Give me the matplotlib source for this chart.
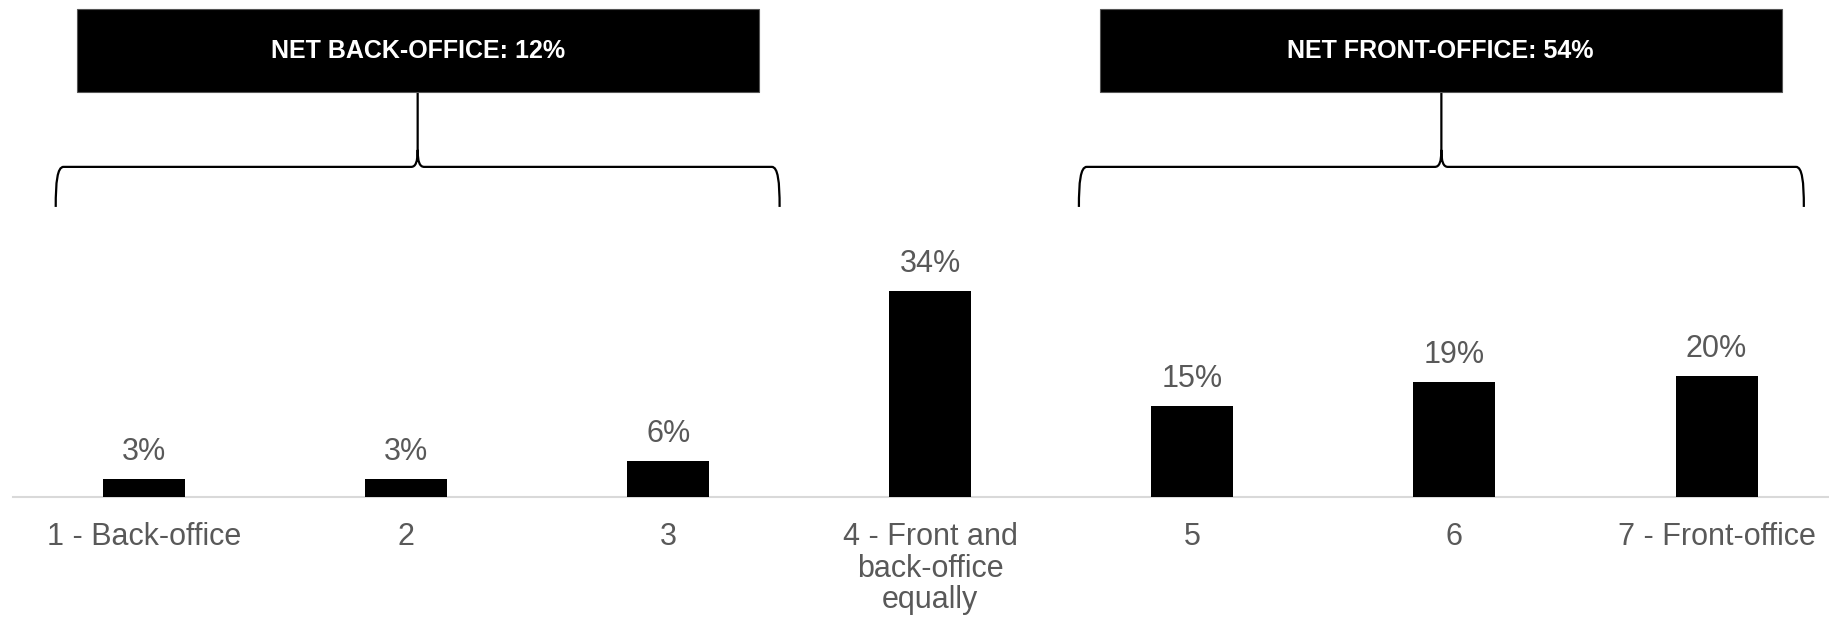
import matplotlib
matplotlib.use("Agg")
import matplotlib.pyplot as plt
from matplotlib.patches import Rectangle, PathPatch
from matplotlib.path import Path

# Survey responses: where should the focus sit, back-office (1) to front-office (7)
categories = ["1 - Back-office", "2", "3", "4 - Front and\nback-office\nequally",
              "5", "6", "7 - Front-office"]
values = [3, 3, 6, 34, 15, 19, 20]

# Net groupings shown above the bars (first and last category index of each)
net_names = ["NET BACK-OFFICE", "NET FRONT-OFFICE"]
net_members = [(0, 2), (4, 6)]

FONT = "Liberation Sans"
GREY = "#595959"

fig = plt.figure(figsize=(18.29, 6.25), dpi=100)
W, H = 1829, 625
ax = fig.add_axes([13 / W, 128 / H, (W - 13) / W, 497 / H])

x = list(range(len(categories)))
ax.bar(x, values, width=0.313, color="black", zorder=3)

for xi, v in zip(x, values):
    ax.annotate(f"{v}%", (xi, v), xytext=(0, 13.5), textcoords="offset points",
                ha="center", va="baseline", fontsize=22, color=GREY, family=FONT)

ax.set_xlim(-0.5, 6.429)
ax.set_ylim(0, 81.9)
ax.set_xticks(x, categories)
for lab in ax.get_xticklabels():
    lab.set_fontsize(22)
    lab.set_color(GREY)
    lab.set_family(FONT)
    lab.set_linespacing(1.07)
ax.tick_params(axis="x", length=0, pad=18)
ax.set_yticks([])
for side in ("left", "right", "top"):
    ax.spines[side].set_visible(False)
ax.spines["bottom"].set_color("#d9d9d9")
ax.spines["bottom"].set_linewidth(1.5)

# Brace + header box geometry (data units)
box_top, box_bot = 80.4, 66.7
brace_y, brace_end = 54.4, 47.8
rx, ry = 0.03, 2.5
cx, cy = 0.025, 2.8
margins = [(-0.337, 0.425, -0.256, 0.346), (-0.433, 0.333, -0.353, 0.248)]

for name, (i0, i1), (bl, br, kl, kr) in zip(net_names, net_members, margins):
    total = sum(values[i0:i1 + 1])
    xl, xr = i0 + bl, i1 + br
    xc = (xl + xr) / 2
    verts = [
        (xl, brace_end), (xl, brace_y - ry), (xl + rx * 0.2, brace_y), (xl + rx, brace_y),
        (xc - cx, brace_y),
        (xc - cx * 0.3, brace_y), (xc, brace_y + cy * 0.3), (xc, brace_y + cy),
        (xc, box_bot),
        (xc, brace_y + cy),
        (xc, brace_y + cy * 0.3), (xc + cx * 0.3, brace_y), (xc + cx, brace_y),
        (xr - rx, brace_y),
        (xr - rx * 0.2, brace_y), (xr, brace_y - ry), (xr, brace_end),
    ]
    codes = [
        Path.MOVETO, Path.CURVE4, Path.CURVE4, Path.CURVE4,
        Path.LINETO,
        Path.CURVE4, Path.CURVE4, Path.CURVE4,
        Path.LINETO,
        Path.MOVETO,
        Path.CURVE4, Path.CURVE4, Path.CURVE4,
        Path.LINETO,
        Path.CURVE4, Path.CURVE4, Path.CURVE4,
    ]
    ax.add_patch(PathPatch(Path(verts, codes), facecolor="none", edgecolor="black",
                           lw=1.6, clip_on=False, zorder=2))
    bx0, bx1 = i0 + kl, i1 + kr
    ax.add_patch(Rectangle((bx0, box_bot), bx1 - bx0, box_top - box_bot,
                           facecolor="black", edgecolor="#555555", lw=0.8,
                           clip_on=False, zorder=4))
    ax.text((bx0 + bx1) / 2, (box_top + box_bot) / 2, f"{name}: {total}%",
            ha="center", va="center", color="white", fontsize=18,
            fontweight="bold", family=FONT, zorder=5)

fig.savefig("out.png", dpi=100, facecolor="white")
